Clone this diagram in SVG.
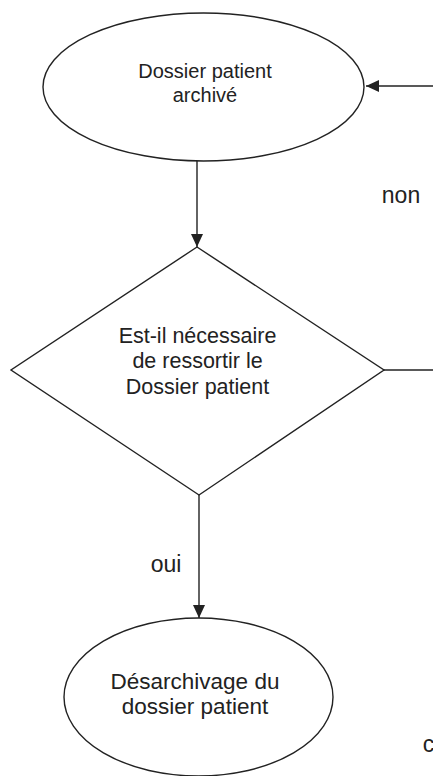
<svg xmlns="http://www.w3.org/2000/svg" width="433" height="776" viewBox="0 0 433 776">
<style>
.shape{fill:none;stroke:#222;stroke-width:1.4}
.edge{fill:none;stroke:#222;stroke-width:1.4}
text{font-family:"Liberation Sans",Arial,sans-serif;fill:#222;text-anchor:middle}
</style>
<defs>
<marker id="arr" markerWidth="13" markerHeight="12" refX="13" refY="6" orient="auto" markerUnits="userSpaceOnUse">
<path d="M0,0 L13,6 L0,12 Z" fill="#222"/>
</marker>
</defs>
<rect width="433" height="776" fill="#fff"/>
<g id="connectors">
<line class="edge" x1="433" y1="86" x2="366" y2="86" marker-end="url(#arr)"/>
<line class="edge" x1="197" y1="161" x2="197" y2="247" marker-end="url(#arr)"/>
<line class="edge" x1="384" y1="370" x2="433" y2="370"/>
<line class="edge" x1="199" y1="495" x2="199" y2="618" marker-end="url(#arr)"/>
<text x="401" y="203" font-size="23">non</text>
<text x="166" y="572" font-size="23">oui</text>
<text x="428.5" y="752" font-size="23" text-anchor="start">c</text>
</g>
<g id="node-archive">
<ellipse class="shape" cx="203.5" cy="87" rx="160.5" ry="74"/>
<text x="205" y="78" font-size="20">Dossier patient</text>
<text x="205" y="102" font-size="20">archivé</text>
</g>
<g id="node-decision">
<polygon class="shape" points="197,247 384,370 199,495 11,370"/>
<text x="197.5" y="343" font-size="21.5">Est-il nécessaire</text>
<text x="197.5" y="368" font-size="21.5">de ressortir le</text>
<text x="197.5" y="394" font-size="21.5">Dossier patient</text>
</g>
<g id="node-desarchivage">
<ellipse class="shape" cx="198.5" cy="697" rx="134.5" ry="79"/>
<text x="195" y="689" font-size="22.5">Désarchivage du</text>
<text x="195" y="714" font-size="22.5">dossier patient</text>
</g>
</svg>
